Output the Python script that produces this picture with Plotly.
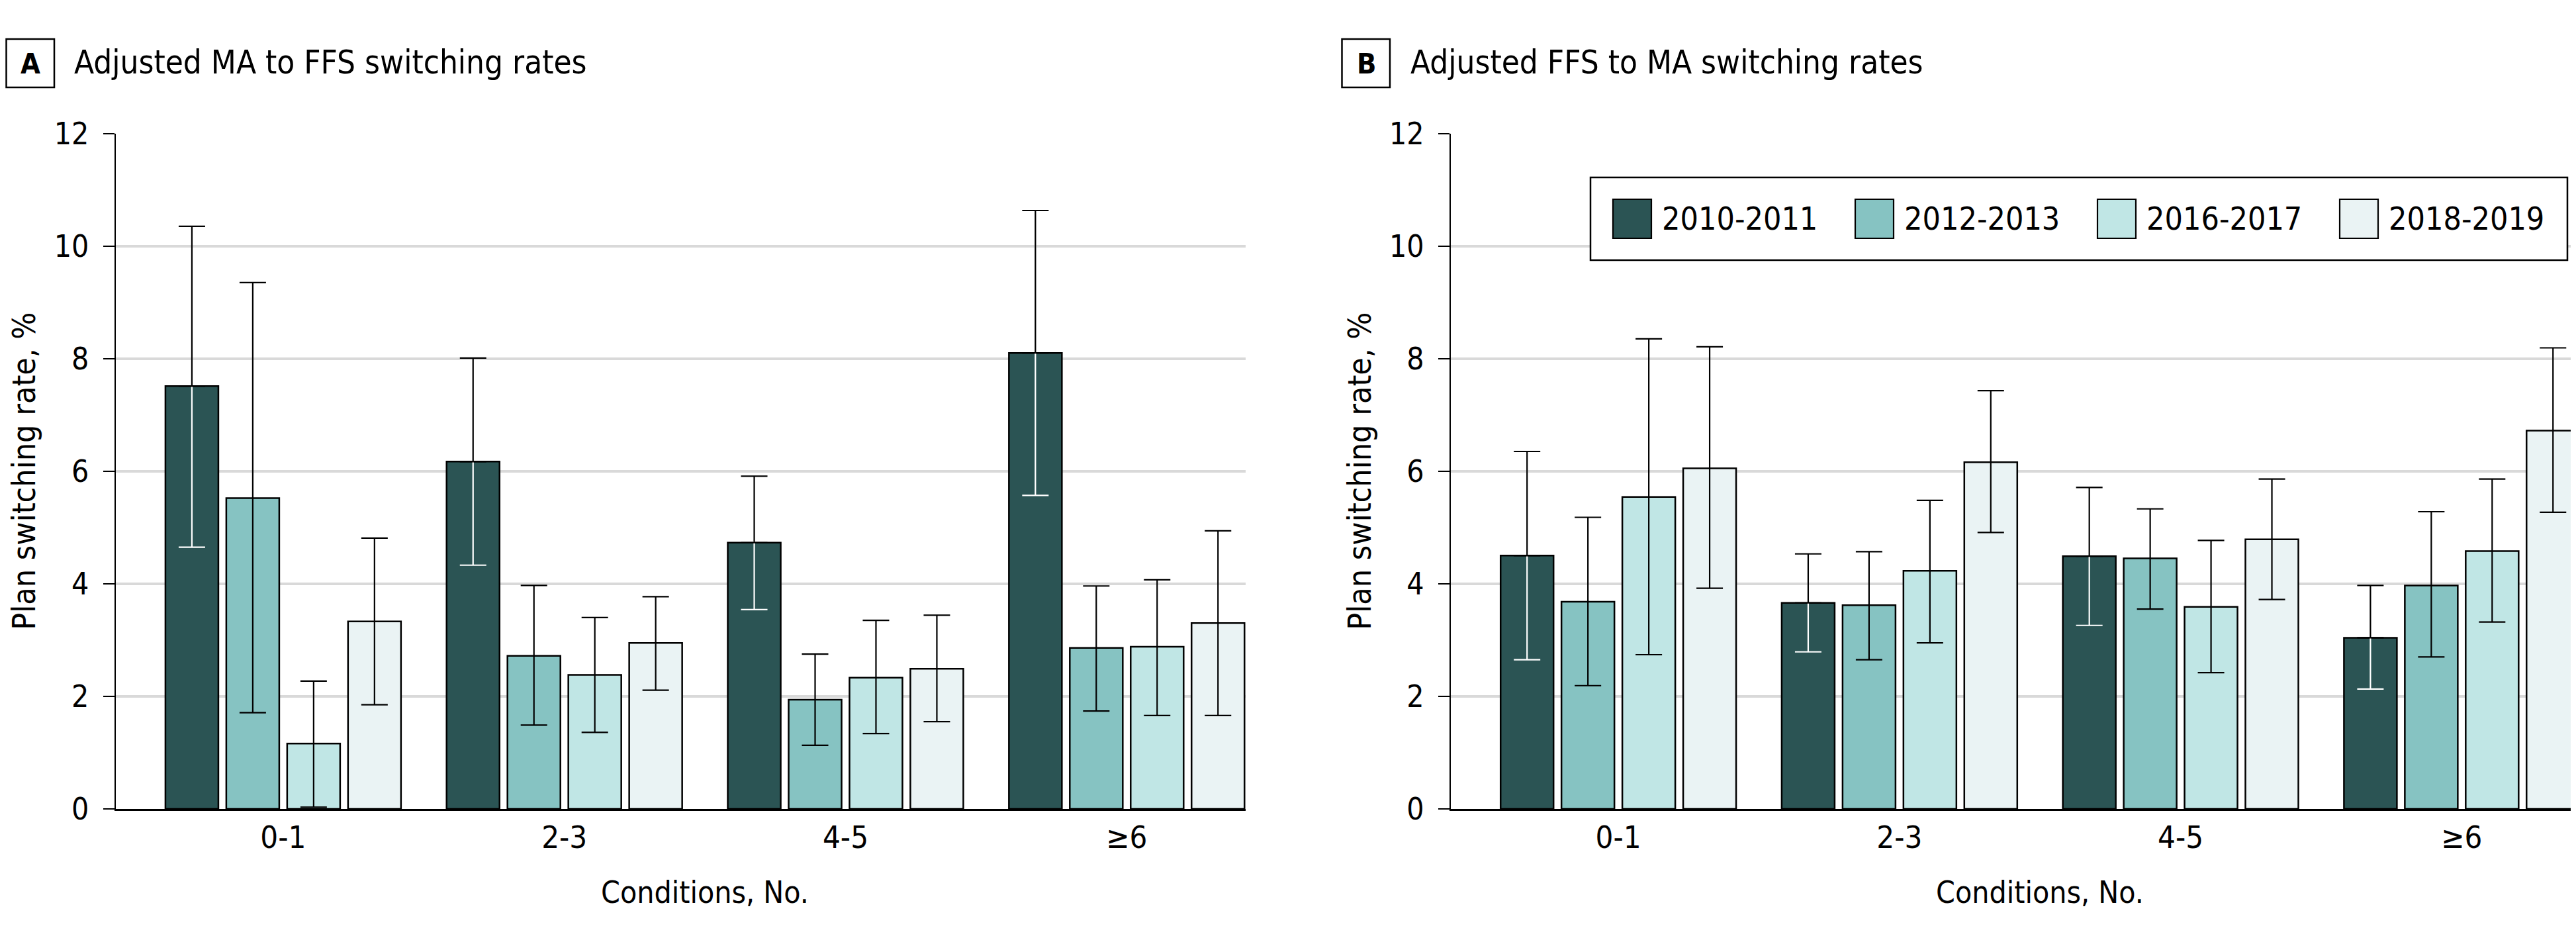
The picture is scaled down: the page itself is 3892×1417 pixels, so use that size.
import plotly.graph_objects as go

# ---------------- data ----------------
categories = ["0-1", "2-3", "4-5", "≥6"]
periods = ["2010-2011", "2012-2013", "2016-2017", "2018-2019"]
colors = ["#2B5454", "#86C3C2", "#C0E6E5", "#EAF3F4"]
y_ticks = [0, 2, 4, 6, 8, 10, 12]

# Panel A: adjusted MA to FFS switching rates (%), with 95% CI
a_2010_rate = [7.51, 6.17, 4.73, 8.10]
a_2010_lo = [4.65, 4.33, 3.54, 5.57]
a_2010_hi = [10.35, 8.01, 5.91, 10.63]
a_2012_rate = [5.52, 2.72, 1.94, 2.86]
a_2012_lo = [1.71, 1.49, 1.13, 1.74]
a_2012_hi = [9.35, 3.97, 2.75, 3.96]
a_2016_rate = [1.16, 2.38, 2.33, 2.88]
a_2016_lo = [0.03, 1.36, 1.34, 1.66]
a_2016_hi = [2.27, 3.40, 3.35, 4.07]
a_2018_rate = [3.33, 2.95, 2.49, 3.30]
a_2018_lo = [1.85, 2.11, 1.55, 1.66]
a_2018_hi = [4.81, 3.77, 3.44, 4.94]

# Panel B: adjusted FFS to MA switching rates (%), with 95% CI
b_2010_rate = [4.50, 3.66, 4.49, 3.04]
b_2010_lo = [2.65, 2.79, 3.26, 2.13]
b_2010_hi = [6.35, 4.53, 5.71, 3.97]
b_2012_rate = [3.68, 3.62, 4.45, 3.97]
b_2012_lo = [2.19, 2.65, 3.55, 2.70]
b_2012_hi = [5.18, 4.57, 5.33, 5.28]
b_2016_rate = [5.54, 4.23, 3.59, 4.58]
b_2016_lo = [2.74, 2.95, 2.42, 3.32]
b_2016_hi = [8.35, 5.48, 4.77, 5.86]
b_2018_rate = [6.05, 6.16, 4.79, 6.72]
b_2018_lo = [3.92, 4.91, 3.72, 5.27]
b_2018_hi = [8.21, 7.43, 5.86, 8.19]

panel_titles = ["Adjusted MA to FFS switching rates", "Adjusted FFS to MA switching rates"]
panel_letters = ["A", "B"]
x_title = "Conditions, No."
y_title = "Plan switching rate, %"

# ---------------- figure ----------------
W, H = 3892, 1417
FONT = "DejaVu Sans Condensed, DejaVu Sans, sans-serif"


def px(x):
    return x / W


def py(y):
    return 1 - y / H


panels = [
    [(a_2010_rate, a_2010_lo, a_2010_hi), (a_2012_rate, a_2012_lo, a_2012_hi),
     (a_2016_rate, a_2016_lo, a_2016_hi), (a_2018_rate, a_2018_lo, a_2018_hi)],
    [(b_2010_rate, b_2010_lo, b_2010_hi), (b_2012_rate, b_2012_lo, b_2012_hi),
     (b_2016_rate, b_2016_lo, b_2016_hi), (b_2018_rate, b_2018_lo, b_2018_hi)],
]

fig = go.Figure()
for p, series in enumerate(panels):
    xa = "x" if p == 0 else "x2"
    ya = "y" if p == 0 else "y2"
    for i, (rate, lo, hi) in enumerate(series):
        up = [h - r for h, r in zip(hi, rate)]
        dn = [r - l for r, l in zip(rate, lo)]
        err_col = "white" if i == 0 else "black"
        fig.add_trace(go.Bar(
            x=categories, y=rate, name=periods[i], xaxis=xa, yaxis=ya,
            offsetgroup=str(i), showlegend=False,
            marker=dict(color=colors[i], line=dict(color="black", width=2.5)),
            error_y=dict(type="data", symmetric=False, array=up, arrayminus=dn,
                         color=err_col, thickness=2.2, width=20),
        ))
        if i == 0:
            # black part of the whisker above the dark bar
            fig.add_trace(go.Bar(
                x=categories, y=rate, name=periods[i], xaxis=xa, yaxis=ya,
                offsetgroup=str(i), showlegend=False, hoverinfo="skip",
                marker=dict(color="rgba(0,0,0,0)", line=dict(width=0)),
                error_y=dict(type="data", symmetric=False, array=up,
                             arrayminus=[0] * len(rate),
                             color="black", thickness=2.2, width=20),
            ))

x_range = [-0.596, 3.423]
common_x = dict(type="category", range=x_range, showline=True, linecolor="black",
                linewidth=2.5, ticks="", showgrid=False, zeroline=False,
                tickfont=dict(family=FONT, size=47, color="black"),
                ticklabelstandoff=0, automargin=False, fixedrange=True)
common_y = dict(range=[0, 12], tickvals=y_ticks, showline=True, linecolor="black",
                linewidth=2.2, ticks="outside", ticklen=17, tickwidth=2.2,
                tickcolor="black", showgrid=True, gridcolor="#D9D9D9", gridwidth=3.5,
                zeroline=False, tickfont=dict(family=FONT, size=46, color="black"),
                ticklabelstandoff=12, automargin=False, fixedrange=True)

y_dom = [py(1214), py(193.5)]
fig.update_layout(
    width=W, height=H, margin=dict(l=0, r=0, t=0, b=0),
    paper_bgcolor="white", plot_bgcolor="white",
    barmode="group", bargap=0.134, bargroupgap=0.13,
    showlegend=False,
    xaxis=dict(domain=[px(166.7), px(1874)], anchor="y", **common_x),
    xaxis2=dict(domain=[px(2184), px(3891)], anchor="y2", **common_x),
    yaxis=dict(domain=y_dom, anchor="x", **common_y),
    yaxis2=dict(domain=y_dom, anchor="x2", **common_y),
)

shapes = []
annotations = []
title_lefts = [(0, 102), (2018, 2121)]
y_title_x = [28, 2046]
for p in range(2):
    bx, tx = title_lefts[p]
    shapes.append(dict(type="rect", xref="paper", yref="paper",
                       x0=px(bx + 1.5), x1=px(bx + 74), y0=py(51), y1=py(124),
                       line=dict(color="black", width=2.5), fillcolor="white"))
    annotations.append(dict(text="<b>%s</b>" % panel_letters[p], xref="paper", yref="paper",
                            x=px(bx + 38), y=py(88), xanchor="center", yanchor="middle",
                            showarrow=False, font=dict(family=FONT, size=43, color="black")))
    annotations.append(dict(text=panel_titles[p], xref="paper", yref="paper",
                            x=px(tx), y=py(86), xanchor="left", yanchor="middle",
                            showarrow=False, font=dict(family=FONT, size=49, color="black")))
    xr = "x" if p == 0 else "x2"
    annotations.append(dict(text=x_title, xref=xr, yref="paper",
                            x=(len(categories) - 1) / 2, y=py(1340), xanchor="center",
                            yanchor="middle", showarrow=False,
                            font=dict(family=FONT, size=46, color="black")))
    annotations.append(dict(text=y_title, xref="paper", yref="paper",
                            x=px(y_title_x[p]), y=(y_dom[0] + y_dom[1]) / 2,
                            xanchor="center", yanchor="middle", textangle=-90,
                            showarrow=False, font=dict(family=FONT, size=48, color="black")))

# legend (panel B)
shapes.append(dict(type="rect", xref="paper", yref="paper",
                   x0=px(2395), x1=px(3871), y0=py(385), y1=py(260),
                   line=dict(color="black", width=2.5), fillcolor="white", layer="above"))
for i, name in enumerate(periods):
    sx = 2429 + 366 * i
    shapes.append(dict(type="rect", xref="paper", yref="paper",
                       x0=px(sx), x1=px(sx + 58), y0=py(352), y1=py(293),
                       line=dict(color="black", width=2.2), fillcolor=colors[i], layer="above"))
    annotations.append(dict(text=name, xref="paper", yref="paper",
                            x=px(sx + 72), y=py(322), xanchor="left", yanchor="middle",
                            showarrow=False, font=dict(family=FONT, size=48, color="black")))

fig.update_layout(shapes=shapes, annotations=annotations)
fig.write_html("out.html")
